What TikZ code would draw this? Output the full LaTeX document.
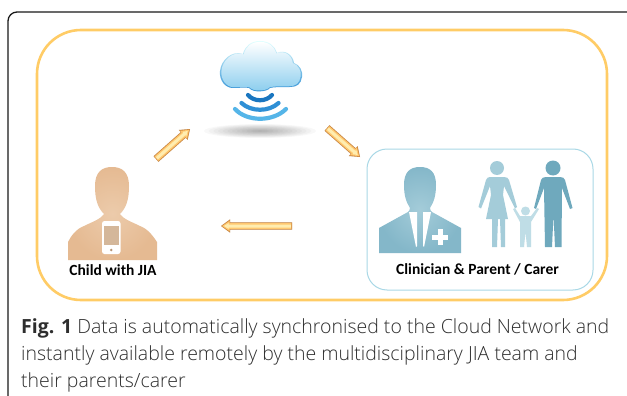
\documentclass[tikz,border=0pt]{standalone}
\usepackage{fontspec}
\setmainfont{Open Sans}[UprightFont=* Light,BoldFont=* Bold]
\newfontfamily\labelfont{Carlito}[BoldFont=Carlito Bold]
\usetikzlibrary{calc}
\definecolor{frameyellow}{HTML}{FFCC66}
\definecolor{boxblue}{HTML}{A9D8E6}
\definecolor{clin}{HTML}{84B7C9}
\definecolor{clinlight}{HTML}{A4CCD9}
\definecolor{manblue}{HTML}{6FA9BD}
\definecolor{kid}{HTML}{BFDDE6}
\definecolor{skin}{HTML}{E5BA92}
\definecolor{skinlight}{HTML}{ECCBAB}
\definecolor{arrowlight}{HTML}{FFEDB0}
\definecolor{arrowmid}{HTML}{FFC870}
\definecolor{arrowedge}{HTML}{CF8A42}
\definecolor{capgray}{HTML}{2E2E2E}
\definecolor{wavea}{HTML}{1A76C0}
\definecolor{waveb}{HTML}{2E8FD5}
\definecolor{wavec}{HTML}{55B5E8}
\definecolor{cloudlow}{HTML}{8ACDEE}
\definecolor{cloudmid}{HTML}{D8F0FA}
\tikzset{
  x=1pt,y=-1pt,
  outerframe/.style={draw=black!90,line width=1.3pt,rounded corners=9pt},
  yellowframe/.style={draw=frameyellow,line width=2.6pt,rounded corners=44pt},
  bluebox/.style={draw=boxblue,line width=1pt,rounded corners=20pt},
  lab/.style={font=\labelfont\bfseries\fontsize{15.5}{18}\selectfont,text=black,inner sep=0pt},
  capline/.style={anchor=base west,inner sep=0pt,text=capgray,font=\fontsize{19.5}{22}\selectfont},
  wave/.style={line cap=round,line width=4.2pt,draw=#1},
}
% tail, tip, half shaft, half head, head length
\newcommand{\arrowpoly}[5]{
     ($(#1)!#3pt!90:(#2)$) -- ($(#1)!#3pt!-90:(#2)$)
     -- ($(#2)!#5pt!(#1)!#3pt!-90:(#2)$) -- ($(#2)!#5pt!(#1)!#4pt!-90:(#2)$) -- (#2)
     -- ($(#2)!#5pt!(#1)!#4pt!90:(#2)$) -- ($(#2)!#5pt!(#1)!#3pt!90:(#2)$) -- cycle
}
\newcommand{\fatarrow}[2]{%
  \begin{scope}[shift={(0.5,3)}]
    \fill[black!55,opacity=.3] \arrowpoly{#1}{#2}{3.7}{6.6}{9};
  \end{scope}
  \fill[arrowedge] \arrowpoly{#1}{#2}{3.7}{6.6}{9};
  \fill[arrowmid] \arrowpoly{$(#1)!0.6pt!(#2)$}{$(#2)!1.2pt!(#1)$}{2.9}{5.2}{7.5};
  \fill[arrowlight] \arrowpoly{$(#1)!1.2pt!(#2)$}{$(#2)!3pt!(#1)$}{1.5}{2.8}{4.5};
}
\newcommand{\cloudpath}{
  (233,88) .. controls (225,88) and (219,80) .. (220,71)
  .. controls (221,60) and (232,50) .. (243,54)
  .. controls (245,46) and (251,41) .. (260,41)
  .. controls (269,41) and (275,46) .. (277,53)
  .. controls (285,49) and (293,55) .. (294,63)
  .. controls (300,65) and (303,71) .. (302,77)
  .. controls (301,84) and (297,87) .. (290,87)
  .. controls (280,87) and (274,87) .. (270,88)
  .. controls (267,92) and (253,93) .. (249,88)
  .. controls (245,87) and (240,88) .. (233,88) -- cycle
}
\begin{document}
\begin{tikzpicture}
\useasboundingbox (0,0) rectangle (627,396);
\fill[white] (0,0) rectangle (627,396);
% outer frame
\draw[outerframe] (8,400) -- (8,12) -- (632,12);
% yellow frame
\draw[yellowframe] (37,30) rectangle (607,300);
% cloud shadow
\foreach \i in {1,...,12}{
  \fill[black,opacity=.028] (260,131) ellipse [x radius={56*\i/12},y radius={7*\i/12}];
}
% cloud: rim, then body
\shade[top color=cyan!12,bottom color=waveb] \cloudpath;
\begin{scope}[shift={(261,66)},scale=.965,shift={(-261,-66)}]
  \shade[top color=white,middle color=cloudmid,bottom color=cloudlow] \cloudpath;
\end{scope}
% wifi waves
\draw[wave=wavea] (248,95) .. controls (254,102) and (266,102) .. (272,95);
\draw[wave=waveb] (241.5,103) .. controls (251,112) and (269,112) .. (278.5,103);
\draw[wave=wavec] (235,109) .. controls (247,122) and (273,122) .. (286,109);
% arrows
\coordinate (a1t) at (156,159); \coordinate (a1h) at (190,129);
\coordinate (a2t) at (327,128); \coordinate (a2h) at (360,157);
\coordinate (a3t) at (292,226); \coordinate (a3h) at (221,226);
\fatarrow{a1t}{a1h}
\fatarrow{a2t}{a2h}
\fatarrow{a3t}{a3h}
% child
\shade[inner color=skinlight,outer color=skin]
  (68,260) -- (68,242) .. controls (71,236) and (76,229) .. (84,226)
  .. controls (92,222) and (101,219) .. (104,214)
  .. controls (98,208) and (95,200) .. (95,186)
  .. controls (95,172) and (102,167) .. (112,167)
  .. controls (122,167) and (129,172) .. (129,186)
  .. controls (129,200) and (126,208) .. (120,214)
  .. controls (123,219) and (132,222) .. (140,226)
  .. controls (148,229) and (153,236) .. (157,242) -- (157,260) -- cycle;
% phone
\fill[white,rounded corners=2.5pt] (102,221) rectangle (120.5,254);
\fill[skinlight!90!black] (104,226) rectangle (118.5,245);
\fill[skin!80!black] (111.2,250) circle (1.4);
\node[lab] (childlabel) at (113,270) {Child with JIA};
% blue box
\draw[bluebox] (367,149) rectangle (593,290);
% clinician
\shade[inner color=clinlight,outer color=clin]
  (379,253) -- (379,228) -- (408,212) .. controls (409,211) and (410,210) .. (410,208)
  .. controls (406,202) and (404,195) .. (404,185)
  .. controls (404,172) and (410,167) .. (420,167)
  .. controls (430,167) and (436,172) .. (436,185)
  .. controls (436,195) and (434,202) .. (430,208)
  .. controls (430,210) and (431,211) .. (432,212)
  -- (461,228) -- (461,253) -- cycle;
\fill[white] (409,212) -- (417,212) -- (417,246) -- (416,247) -- cycle;
\fill[white] (431,212) -- (423,212) -- (423,246) -- (424,247) -- cycle;
\fill[white] (437.5,229) rectangle (442.5,245);
\fill[white] (432,234.5) rectangle (448,239.5);
% woman
\fill[clinlight] (497,168) circle (7);
\fill[clinlight,line join=round]
  (490,177) -- (504,177) .. controls (507,177) and (508,178) .. (509,180)
  -- (517,207) -- (515,208.5) -- (504,186) -- (503,195) -- (508,219) -- (505,219) -- (505,247) -- (501,247) -- (500,219) -- (498,219)
  -- (497,247) -- (492,247) -- (492,219) -- (486,219) -- (491,195) -- (490,186) -- (481,208.5) -- (478.5,207) -- (486,180)
  .. controls (487,178) and (488,177) .. (490,177) -- cycle;
% man
\fill[manblue] (553,168) circle (7.5);
\fill[manblue]
  (546,177) -- (560,177) .. controls (563,177) and (564,178) .. (565,180)
  -- (572.5,208) -- (570,209) -- (562,188) -- (561.5,247) -- (555,247) -- (553.5,215) -- (552,247) -- (545,247)
  -- (544,188) -- (536,209) -- (534,208) -- (541,180) .. controls (542,178) and (543,177) .. (546,177) -- cycle;
% kid
\fill[kid] (525.5,211) circle (4.5);
\fill[kid]
  (513,209) -- (515,208) -- (520,216) -- (531,216) -- (537,208) -- (539,209) -- (531,222) -- (531,247) -- (527,247)
  -- (525.5,232) -- (524,247) -- (520,247) -- (520,222) -- cycle;
\node[lab] (clinlabel) at (477.5,269) {Clinician \& Parent / Carer};
% caption
\node[capline] (cap1) at (21,333) {\textbf{Fig. 1} Data is automatically synchronised to the Cloud Network and};
\node[capline] (cap2) at (21,360) {instantly available remotely by the multidisciplinary JIA team and};
\node[capline] (cap3) at (21,387) {their parents/carer};
\end{tikzpicture}
\end{document}
